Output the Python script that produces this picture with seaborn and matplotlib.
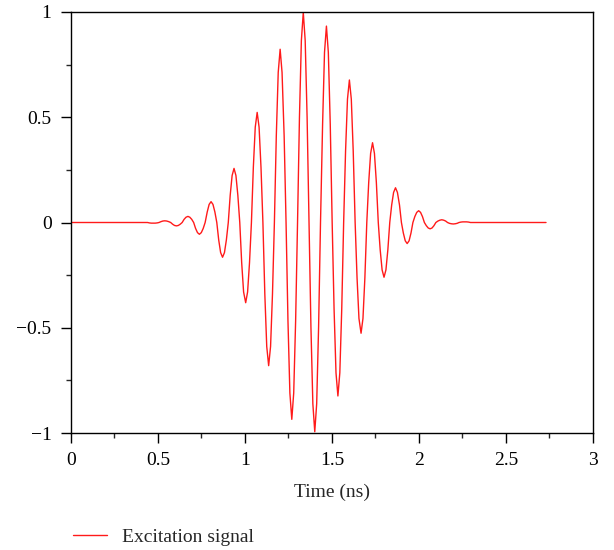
import numpy as np
import pandas as pd
import matplotlib
matplotlib.use("Agg")
import matplotlib.pyplot as plt
import seaborn as sns
from matplotlib.ticker import MultipleLocator

# Excitation trace sampled off the figure (time in ns, amplitude)
time_ns = [
    0.0,
    0.440, 0.451, 0.462, 0.473, 0.484, 0.495,
    0.506, 0.517, 0.528, 0.539, 0.550, 0.562,
    0.573, 0.584, 0.595, 0.606, 0.617, 0.628,
    0.639, 0.650, 0.661, 0.672, 0.683, 0.694,
    0.705, 0.716, 0.727, 0.738, 0.749, 0.760,
    0.771, 0.783, 0.794, 0.805, 0.816, 0.827,
    0.838, 0.849, 0.860, 0.871, 0.882, 0.893,
    0.904, 0.915, 0.926, 0.937, 0.948, 0.959,
    0.970, 0.981, 0.992, 1.004, 1.015, 1.026,
    1.037, 1.048, 1.059, 1.070, 1.081, 1.092,
    1.103, 1.114, 1.125, 1.136, 1.147, 1.158,
    1.169, 1.180, 1.191, 1.202, 1.213, 1.225,
    1.236, 1.247, 1.258, 1.269, 1.280, 1.291,
    1.302, 1.313, 1.324, 1.335, 1.346, 1.357,
    1.368, 1.379, 1.390, 1.401, 1.412, 1.423,
    1.434, 1.446, 1.457, 1.468, 1.479, 1.490,
    1.501, 1.512, 1.523, 1.534, 1.545, 1.556,
    1.567, 1.578, 1.589, 1.600, 1.611, 1.622,
    1.633, 1.644, 1.655, 1.667, 1.678, 1.689,
    1.700, 1.711, 1.722, 1.733, 1.744, 1.755,
    1.766, 1.777, 1.788, 1.799, 1.810, 1.821,
    1.832, 1.843, 1.854, 1.865, 1.876, 1.888,
    1.899, 1.910, 1.921, 1.932, 1.943, 1.954,
    1.965, 1.976, 1.987, 1.998, 2.009, 2.020,
    2.031, 2.042, 2.053, 2.064, 2.075, 2.086,
    2.097, 2.109, 2.120, 2.131, 2.142, 2.153,
    2.164, 2.175, 2.186, 2.197, 2.208, 2.219,
    2.230, 2.241, 2.252, 2.263, 2.274, 2.285,
    2.296,
    2.73,
]
amplitude = [
    0.0,
    0.0, -0.002, -0.003, -0.003, -0.003, -0.002,
    0.0, 0.004, 0.007, 0.008, 0.007, 0.004,
    0.0, -0.008, -0.014, -0.016, -0.014, -0.008,
    0.0, 0.015, 0.025, 0.029, 0.025, 0.015,
    0.0, -0.028, -0.048, -0.056, -0.048, -0.028,
    0.0, 0.050, 0.086, 0.099, 0.086, 0.050,
    0.0, -0.083, -0.143, -0.165, -0.143, -0.083,
    0.0, 0.129, 0.223, 0.257, 0.223, 0.129,
    0.0, -0.191, -0.330, -0.381, -0.330, -0.191,
    0.0, 0.262, 0.453, 0.523, 0.453, 0.262,
    0.0, -0.340, -0.589, -0.680, -0.589, -0.340,
    0.0, 0.412, 0.713, 0.823, 0.713, 0.412,
    0.0, -0.468, -0.810, -0.935, -0.810, -0.468,
    0.0, 0.499, 0.864, 0.998, 0.864, 0.499,
    0.0, -0.497, -0.861, -0.994, -0.861, -0.497,
    0.0, 0.467, 0.808, 0.933, 0.808, 0.467,
    0.0, -0.412, -0.714, -0.824, -0.714, -0.412,
    0.0, 0.339, 0.586, 0.677, 0.586, 0.339,
    0.0, -0.263, -0.456, -0.526, -0.456, -0.263,
    0.0, 0.190, 0.328, 0.379, 0.328, 0.190,
    0.0, -0.130, -0.225, -0.260, -0.225, -0.130,
    0.0, 0.083, 0.143, 0.165, 0.143, 0.083,
    0.0, -0.050, -0.087, -0.100, -0.087, -0.050,
    0.0, 0.028, 0.048, 0.056, 0.048, 0.028,
    0.0, -0.015, -0.026, -0.030, -0.026, -0.015,
    0.0, 0.007, 0.011, 0.013, 0.011, 0.007,
    0.0, -0.004, -0.006, -0.007, -0.006, -0.004,
    0.0, 0.002, 0.003, 0.003, 0.003, 0.002,
    0.0,
    0.0,
]

x_ticks = [0, 0.5, 1, 1.5, 2, 2.5, 3]
x_tick_labels = ["0", "0.5", "1", "1.5", "2", "2.5", "3"]
y_ticks = [-1, -0.5, 0, 0.5, 1]
y_tick_labels = ["\u22121", "\u22120.5", "0", "0.5", "1"]

df = pd.DataFrame({"Time (ns)": time_ns, "Amplitude": amplitude})

sns.set_style("ticks")
plt.rcParams["font.family"] = ["Liberation Serif", "DejaVu Serif"]
plt.rcParams["axes.linewidth"] = 1.0

fig = plt.figure(figsize=(6.14, 5.5), dpi=100)
ax = fig.add_axes([0.1156, 0.2127, 0.8502, 0.7655])

sns.lineplot(data=df, x="Time (ns)", y="Amplitude", color="#ff1a1a",
             linewidth=1.0, label="Excitation signal", ax=ax, sort=False)

ax.set_xlim(0, 3)
ax.set_ylim(-1, 1)
ax.set_xticks(x_ticks)
ax.set_xticklabels(x_tick_labels)
ax.set_yticks(y_ticks)
ax.set_yticklabels(y_tick_labels)
ax.xaxis.set_minor_locator(MultipleLocator(0.25))
ax.yaxis.set_minor_locator(MultipleLocator(0.25))
ax.tick_params(which="major", direction="out", length=7, width=1.0,
               labelsize=14, colors="black", pad=7)
ax.tick_params(which="minor", direction="out", length=3.5, width=1.0)
for s in ax.spines.values():
    s.set_visible(True)
    s.set_color("black")

ax.set_xlabel("Time (ns)", fontsize=14, labelpad=10)
ax.set_ylabel("")

ax.legend(loc="center left", bbox_to_anchor=(0.119, 0.024),
          bbox_transform=fig.transFigure, frameon=False, fontsize=14,
          handlelength=1.75, handletextpad=0.75, borderpad=0, borderaxespad=0)

fig.savefig("out.png", dpi=100)
